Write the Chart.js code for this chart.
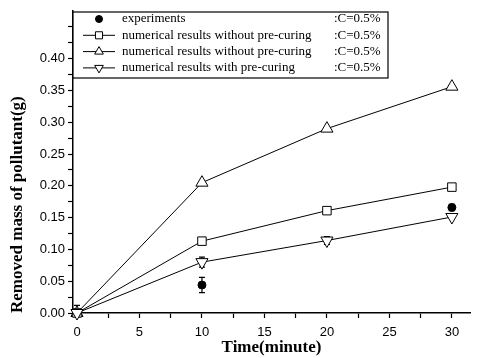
<!DOCTYPE html>
<html>
<head>
<meta charset="utf-8">
<script src="https://cdn.jsdelivr.net/npm/chart.js@4/dist/chart.umd.min.js"></script>
<style>
  html, body { margin: 0; padding: 0; background: #fff; }
  #wrap { width: 478px; height: 358px; }
</style>
</head>
<body>
<div id="wrap"><canvas id="chart"></canvas></div>
<script>
// data
var times = [0, 10, 20, 30];
var expTimes = [0, 10, 30];
var expValues = [0, 0.044, 0.166];
var expErr = [0.012, 0.012, 0.005];
var squareValues = [0, 0.113, 0.161, 0.198];
var triValues = [0, 0.205, 0.290, 0.356];
var downValues = [0, 0.080, 0.114, 0.151];
var downErr = [0, 0.008, 0.006, 0];
var legendLabels = [
  "experiments",
  "numerical results without pre-curing",
  "numerical results without pre-curing",
  "numerical results with pre-curing"
];
var legendSuffix = ":C=0.5%";
var xTicks = [0, 2.5, 5, 7.5, 10, 12.5, 15, 17.5, 20, 22.5, 25, 27.5, 30];
var yTicks = [0, 0.025, 0.05, 0.075, 0.1, 0.125, 0.15, 0.175, 0.2, 0.225, 0.25, 0.275, 0.3, 0.325, 0.35, 0.375, 0.4, 0.425, 0.45];

function pts(xs, ys) {
  return xs.map(function (x, i) { return { x: x, y: ys[i] }; });
}

var seriesStyles = [
  { pointStyle: 'circle', radius: 4, bg: '#000', rot: 0 },
  { pointStyle: 'rect', radius: 6, bg: '#fff', rot: 0 },
  { pointStyle: 'triangle', radius: 7, bg: '#fff', rot: 0 },
  { pointStyle: 'triangle', radius: 7, bg: '#fff', rot: 180 }
];

var errorBars = {
  id: 'errorBars',
  beforeDatasetsDraw: function (chart) {
    var ctx = chart.ctx, xs = chart.scales.x, ys = chart.scales.y;
    function bar(x, y, e) {
      if (!e) return;
      var px = xs.getPixelForValue(x);
      var top = ys.getPixelForValue(y + e), bot = ys.getPixelForValue(Math.max(0, y - e));
      ctx.beginPath();
      ctx.moveTo(px, top); ctx.lineTo(px, bot);
      ctx.moveTo(px - 3, top); ctx.lineTo(px + 3, top);
      if (y - e > 0) { ctx.moveTo(px - 3, bot); ctx.lineTo(px + 3, bot); }
      ctx.stroke();
    }
    ctx.save();
    ctx.strokeStyle = '#000';
    ctx.lineWidth = 1.2;
    expTimes.forEach(function (t, i) { bar(t, expValues[i], expErr[i]); });
    times.forEach(function (t, i) { bar(t, downValues[i], downErr[i]); });
    ctx.restore();
  }
};

var boxLegend = {
  id: 'boxLegend',
  afterDraw: function (chart) {
    var ctx = chart.ctx;
    var left = chart.chartArea.left, top = 12, right = 388, bottom = 78;
    ctx.save();
    ctx.fillStyle = '#fff';
    ctx.fillRect(left, top, right - left, bottom - top);
    ctx.strokeStyle = '#000';
    ctx.lineWidth = 1.2;
    ctx.strokeRect(left, top, right - left, bottom - top);
    ctx.font = '13px "Liberation Serif"';
    ctx.textBaseline = 'middle';
    for (var i = 0; i < legendLabels.length; i++) {
      var y = 19 + i * 16.3;
      var s = seriesStyles[i];
      ctx.strokeStyle = '#000';
      if (i > 0) {
        ctx.lineWidth = 1;
        ctx.beginPath();
        ctx.moveTo(left + 10, y); ctx.lineTo(left + 42, y);
        ctx.stroke();
      }
      ctx.fillStyle = s.bg;
      ctx.lineWidth = 1;
      Chart.helpers.drawPoint(ctx, {
        pointStyle: s.pointStyle,
        radius: i === 0 ? 3.5 : 5,
        rotation: s.rot,
        borderWidth: 1
      }, left + 26, y);
      ctx.fillStyle = '#000';
      ctx.fillText(legendLabels[i], left + 49, y);
      ctx.fillText(legendSuffix, 334, y);
    }
    ctx.restore();
  }
};

function makeSet(label, data, s, showLine) {
  return {
    label: label,
    data: data,
    showLine: showLine,
    borderColor: '#000',
    borderWidth: 1,
    pointStyle: s.pointStyle,
    pointRadius: s.radius,
    pointRotation: s.rot,
    pointBackgroundColor: s.bg,
    pointBorderColor: '#000',
    pointBorderWidth: 1,
    clip: false
  };
}

var expSet = makeSet('experiments', pts(expTimes, expValues), seriesStyles[0], false);
// the point at t=0 is hidden under the open triangle in the original
expSet.pointRadius = function (c) { return c.raw && c.raw.x === 0 ? 0 : 4; };

new Chart(document.getElementById('chart'), {
  type: 'line',
  data: {
    // lower index is drawn on top
    datasets: [
      expSet,
      makeSet('down', pts(times, downValues), seriesStyles[3], true),
      makeSet('square', pts(times, squareValues), seriesStyles[1], true),
      makeSet('triangle', pts(times, triValues), seriesStyles[2], true)
    ]
  },
  options: {
    responsive: true,
    maintainAspectRatio: false,
    animation: false,
    layout: { padding: { top: 11, right: 0, left: 0, bottom: 0 } },
    plugins: { legend: { display: false }, tooltip: { enabled: false } },
    scales: {
      x: {
        type: 'linear',
        min: -0.32,
        max: 31.45,
        afterBuildTicks: function (axis) { axis.ticks = xTicks.map(function (v) { return { value: v }; }); },
        afterFit: function (axis) { axis.height = 45; },
        border: { display: true, color: '#000', width: 1.5 },
        grid: { drawOnChartArea: false, drawTicks: true, tickLength: 5, tickColor: '#000', tickWidth: 1.2 },
        ticks: {
          color: '#000',
          padding: 7,
          maxRotation: 0,
          autoSkip: false,
          font: { family: '"Liberation Sans"', size: 13 },
          callback: function (v) { return v % 5 === 0 ? String(v) : ''; }
        },
        title: {
          display: true,
          text: 'Time(minute)',
          color: '#000',
          font: { family: '"Liberation Serif"', size: 17, weight: 'bold' },
          padding: { top: 0, bottom: 0 }
        }
      },
      y: {
        type: 'linear',
        min: 0,
        max: 0.475,
        afterBuildTicks: function (axis) { axis.ticks = yTicks.map(function (v) { return { value: v }; }); },
        afterFit: function (axis) { axis.width = 73; },
        border: { display: true, color: '#000', width: 1.5 },
        grid: { drawOnChartArea: false, drawTicks: true, tickLength: 5, tickColor: '#000', tickWidth: 1.2 },
        ticks: {
          color: '#000',
          padding: 3,
          autoSkip: false,
          font: { family: '"Liberation Sans"', size: 13 },
          callback: function (v) {
            var k = v / 0.05;
            if (Math.abs(k - Math.round(k)) < 1e-6 && v <= 0.4001) return v.toFixed(2);
            return '';
          }
        },
        title: {
          display: true,
          text: 'Removed mass of pollutant(g)',
          align: 'start',
          color: '#000',
          font: { family: '"Liberation Serif"', size: 17, weight: 'bold' },
          padding: { top: 7, bottom: 0 }
        }
      }
    }
  },
  plugins: [errorBars, boxLegend]
});
</script>
</body>
</html>
